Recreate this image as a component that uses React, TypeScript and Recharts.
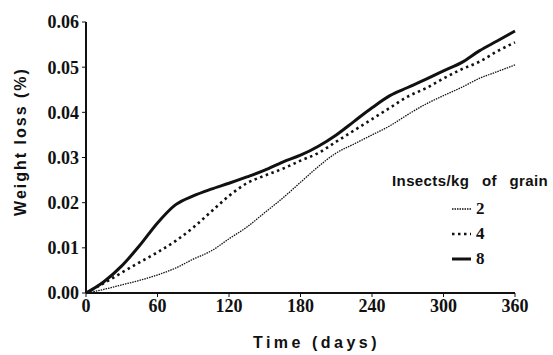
import { Line, LineChart, XAxis, YAxis } from 'recharts';

const days = [0, 15, 30, 45, 60, 75, 90, 105, 120, 135, 150, 165, 180, 195, 210, 225, 240, 255, 270, 285, 300, 315, 330, 345, 360];
const loss2 = [0, 0.0008, 0.0018, 0.0028, 0.004, 0.0055, 0.0075, 0.0093, 0.012, 0.0146, 0.0178, 0.021, 0.0245, 0.028, 0.031, 0.033, 0.035, 0.037, 0.0395, 0.0418, 0.0437, 0.0455, 0.0475, 0.049, 0.0505];
const loss4 = [0, 0.0022, 0.0045, 0.0068, 0.009, 0.0115, 0.0145, 0.018, 0.0215, 0.0243, 0.026, 0.0275, 0.0293, 0.031, 0.0335, 0.036, 0.0385, 0.041, 0.0435, 0.0453, 0.0475, 0.0495, 0.0512, 0.0535, 0.0555];
const loss8 = [0, 0.0025, 0.006, 0.0105, 0.0155, 0.0195, 0.0215, 0.023, 0.0243, 0.0257, 0.0272, 0.029, 0.0305, 0.0325, 0.035, 0.038, 0.041, 0.0437, 0.0455, 0.0473, 0.0492, 0.051, 0.0536, 0.0558, 0.058];

const xTicks = [0, 60, 120, 180, 240, 300, 360];
const yTicks = [0, 0.01, 0.02, 0.03, 0.04, 0.05, 0.06];

const densities = ['2', '4', '8'];

const data = days.map((d, i) => ({ day: d, d2: loss2[i], d4: loss4[i], d8: loss8[i] }));

const INK = '#111';
const tickFont = { fontFamily: '"Liberation Serif", serif', fontWeight: 700, fontSize: 18, fill: INK };
const titleFont = { fontFamily: '"Liberation Sans", Arial, sans-serif', fontWeight: 700, fontSize: 16, fill: INK };

const styles: Record<string, { width: number; dash?: string }> = {
  '2': { width: 1.3, dash: '1.5 1' },
  '4': { width: 2.6, dash: '2.5 3.5' },
  '8': { width: 3 },
};

function LegendBox() {
  return (
    <div style={{ position: 'absolute', left: 392, top: 172, fontFamily: '"Liberation Sans", Arial, sans-serif', color: INK }}>
      <div style={{ fontWeight: 700, fontSize: 15, letterSpacing: 0.4, wordSpacing: 8, whiteSpace: 'nowrap', lineHeight: '18px', marginBottom: 6 }}>
        Insects/kg of grain
      </div>
      {densities.map((k) => (
        <div key={k} style={{ display: 'flex', alignItems: 'center', marginLeft: 60, height: 25 }}>
          <svg width={19} height={8}>
            <line x1={0} y1={4} x2={19} y2={4} stroke={INK} strokeWidth={styles[k].width} strokeDasharray={styles[k].dash} />
          </svg>
          <span style={{ fontFamily: '"Liberation Serif", serif', fontWeight: 700, fontSize: 17, marginLeft: 5 }}>{k}</span>
        </div>
      ))}
    </div>
  );
}

export default function App() {
  return (
    <div style={{ position: 'absolute', left: 0, top: 0, width: 553, height: 355, background: '#fff' }}>
      <LineChart width={553} height={355} data={data} margin={{ top: 22, right: 38, left: 0, bottom: 0 }}>
        <XAxis
          dataKey="day"
          type="number"
          domain={[0, 360]}
          ticks={xTicks}
          height={62}
          tick={tickFont}
          tickSize={4}
          tickMargin={2}
          axisLine={{ stroke: INK, strokeWidth: 2 }}
          tickLine={{ stroke: INK }}
          label={{
            value: 'Time   (days)',
            position: 'insideBottom',
            offset: 7,
            dx: 16,
            style: { ...titleFont, letterSpacing: 3.5, whiteSpace: 'pre' },
          }}
        />
        <YAxis
          type="number"
          domain={[0, 0.06]}
          ticks={yTicks}
          width={86}
          tick={tickFont}
          tickFormatter={(v: number) => v.toFixed(2)}
          tickSize={4}
          tickMargin={3}
          axisLine={{ stroke: INK, strokeWidth: 2 }}
          tickLine={{ stroke: INK }}
          label={{
            value: 'Weight  loss  (%)',
            angle: -90,
            position: 'insideLeft',
            offset: 20,
            dy: -16,
            style: { ...titleFont, letterSpacing: 2, textAnchor: 'middle', whiteSpace: 'pre' },
          }}
        />
        <Line type="monotone" dataKey="d2" name="2" stroke={INK} strokeWidth={1.3} strokeDasharray="1.5 1" dot={false} isAnimationActive={false} />
        <Line type="monotone" dataKey="d4" name="4" stroke={INK} strokeWidth={2.6} strokeDasharray="2.5 3.5" dot={false} isAnimationActive={false} />
        <Line type="monotone" dataKey="d8" name="8" stroke={INK} strokeWidth={3} dot={false} isAnimationActive={false} />
      </LineChart>
      <LegendBox />
    </div>
  );
}
